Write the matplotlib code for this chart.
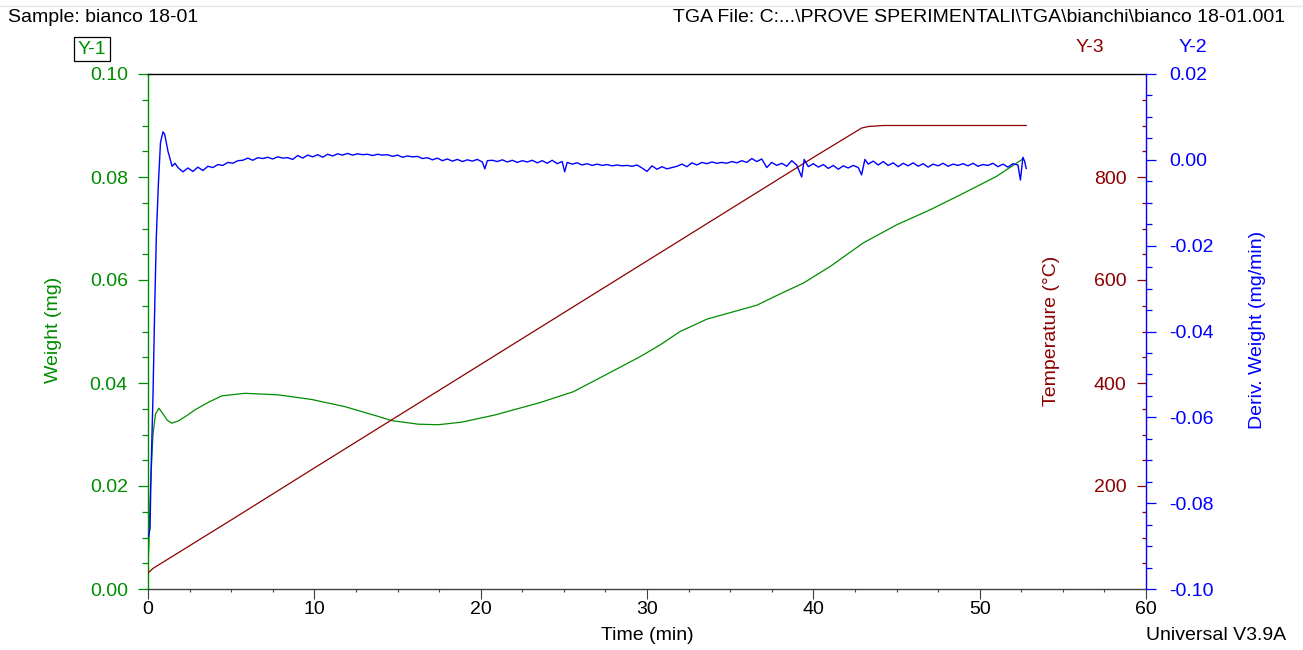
import matplotlib
matplotlib.use("Agg")
import matplotlib.pyplot as plt
from matplotlib.lines import Line2D
from matplotlib.ticker import MultipleLocator, FixedLocator, FuncFormatter

plt.rcParams['font.family'] = ['Liberation Sans', 'DejaVu Sans']

GREEN = '#008c00'
BLUE = '#0000ff'
RED = '#8b0000'

# weight (mg)
weight_time = [0.0, 0.05, 0.15, 0.3, 0.45, 0.66, 0.9, 1.15, 1.42, 1.8, 2.3, 2.83,
               3.6, 4.43, 5.83, 7.84, 9.84, 11.85, 13.85, 14.65, 16.25, 17.46,
               18.86, 20.87, 23.57, 25.57, 27.58, 29.58, 30.79, 31.99, 33.0,
               33.6, 35.6, 36.6, 38.0, 39.4, 41.0, 43.0, 45.0, 47.0, 49.0, 51.0,
               52.5, 52.6]
weight_mg = [0.005, 0.008, 0.020, 0.030, 0.034, 0.0351, 0.0340, 0.0328, 0.0322,
             0.0326, 0.0336, 0.0348, 0.0362, 0.0375, 0.0380, 0.0377, 0.0368,
             0.0354, 0.0335, 0.0327, 0.0320, 0.0319, 0.0324, 0.0338, 0.0362,
             0.0383, 0.0417, 0.0451, 0.0474, 0.0500, 0.0515, 0.0524, 0.0542,
             0.0551, 0.0573, 0.0594, 0.0626, 0.0672, 0.0707, 0.0736, 0.0768,
             0.0801, 0.0833, 0.0836]

# temperature (deg C), dark red trace
temp_time = [0.0, 0.3, 0.9, 5.0, 10.0, 20.0, 30.0, 40.0, 42.9, 43.3, 44.2, 52.8]
temp_c = [31, 40, 52, 134, 235, 436, 637, 838, 895, 898, 900, 900]

# derivative weight (mg/min), blue trace
deriv_time = [0.0, 0.12, 0.2, 0.3, 0.4, 0.5, 0.62, 0.75, 0.9, 1.0, 1.2, 1.45,
              1.62, 1.8, 2.1, 2.4, 2.7, 3.0, 3.3, 3.6, 3.9, 4.2, 4.5, 4.8, 5.1,
              5.4, 5.7, 6.0, 6.3, 6.6, 6.9, 7.2, 7.5, 7.8, 8.1, 8.4, 8.7, 9.0,
              9.3, 9.6, 9.9, 10.2, 10.5, 10.8, 11.1, 11.4, 11.7, 12.0, 12.3,
              12.6, 12.9, 13.2, 13.5, 13.8, 14.1, 14.4, 14.7, 15.0, 15.3, 15.6,
              15.9, 16.2, 16.5, 16.8, 17.1, 17.4, 17.7, 18.0, 18.3, 18.6, 18.9,
              19.2, 19.5, 19.8, 20.1, 20.25, 20.4, 20.7, 21.0, 21.3, 21.6, 21.9,
              22.2, 22.5, 22.8, 23.1, 23.4, 23.7, 24.0, 24.3, 24.6, 24.9, 25.05,
              25.2, 25.5, 25.8, 26.1, 26.4, 26.7, 27.0, 27.3, 27.6, 27.9, 28.2,
              28.5, 28.8, 29.1, 29.4, 29.7, 30.0, 30.3, 30.6, 30.9, 31.2, 31.5,
              31.8, 32.1, 32.4, 32.7, 33.0, 33.3, 33.6, 33.9, 34.2, 34.5, 34.8,
              35.1, 35.4, 35.7, 36.0, 36.3, 36.6, 36.9, 37.2, 37.5, 37.8, 38.1,
              38.4, 38.7, 39.0, 39.3, 39.45, 39.7, 40.0, 40.3, 40.6, 40.9, 41.2,
              41.5, 41.8, 42.1, 42.4, 42.7, 42.9, 43.1, 43.3, 43.6, 43.9, 44.2,
              44.5, 44.8, 45.1, 45.4, 45.7, 46.0, 46.3, 46.6, 46.9, 47.2, 47.5,
              47.8, 48.1, 48.4, 48.7, 49.0, 49.3, 49.6, 49.9, 50.2, 50.5, 50.8,
              51.1, 51.4, 51.7, 52.0, 52.3, 52.45, 52.6, 52.7, 52.8]
deriv_mg_min = [-0.088, -0.086, -0.070, -0.055, -0.035, -0.018, -0.006, 0.004,
                0.0065, 0.006, 0.002, -0.0015, -0.0008, -0.0018, -0.0028,
                -0.0019, -0.0027, -0.0017, -0.0025, -0.0015, -0.0018, -0.0011,
                -0.0013, -0.0006, -0.0008, -0.0002, -0.0001, 0.0004, -0.0001,
                0.0005, 0.0003, 0.0006, 0.0002, 0.0007, 0.0004, 0.0005, 0.0001,
                0.0010, 0.0004, 0.0011, 0.0007, 0.0012, 0.0006, 0.0013, 0.0009,
                0.0014, 0.0011, 0.0015, 0.0011, 0.0014, 0.0012, 0.0013, 0.0010,
                0.0013, 0.0011, 0.0012, 0.0008, 0.0011, 0.0006, 0.0009, 0.0007,
                0.0008, 0.0003, 0.0005, 0.0000, 0.0004, -0.0002, 0.0002,
                -0.0003, 0.0001, -0.0004, 0.0000, -0.0003, 0.0001, -0.0005,
                -0.0021, -0.0002, -0.0001, -0.0004, 0.0000, -0.0005, -0.0001,
                -0.0006, -0.0002, -0.0005, -0.0001, -0.0007, -0.0002, -0.0008,
                -0.0001, -0.0009, -0.0004, -0.0028, -0.0006, -0.0010, -0.0007,
                -0.0012, -0.0009, -0.0013, -0.0010, -0.0013, -0.0011, -0.0014,
                -0.0012, -0.0014, -0.0013, -0.0015, -0.0012, -0.0019, -0.0027,
                -0.0014, -0.0022, -0.0016, -0.0021, -0.0018, -0.0015, -0.0010,
                -0.0016, -0.0007, -0.0012, -0.0006, -0.0009, -0.0005, -0.0008,
                -0.0006, -0.0008, -0.0004, -0.0007, -0.0002, -0.0006, 0.0003,
                -0.0004, 0.0002, -0.0018, -0.0006, -0.0013, -0.0008, -0.0015,
                -0.0002, -0.0012, -0.0040, 0.0001, -0.0016, -0.0009, -0.0017,
                -0.0011, -0.0020, -0.0013, -0.0022, -0.0014, -0.0019, -0.0013,
                -0.0018, -0.0035, 0.0001, -0.0010, -0.0003, -0.0012, -0.0004,
                -0.0013, -0.0007, -0.0016, -0.0008, -0.0014, -0.0007, -0.0015,
                -0.0009, -0.0017, -0.0010, -0.0014, -0.0008, -0.0015, -0.0010,
                -0.0013, -0.0009, -0.0014, -0.0008, -0.0015, -0.0011, -0.0013,
                -0.0008, -0.0016, -0.0010, -0.0017, -0.0009, -0.0012, -0.0047,
                0.0006, -0.0003, -0.0020]

temp_major = [200, 400, 600, 800]
temp_minor = [50, 100, 150, 250, 300, 350, 450, 500, 550, 650, 700, 750,
              850, 900, 950]

FS = 14


def two_dec(v, pos):
    if abs(v) < 1e-9:
        return '0.00'
    return f'{v:.2f}'


fig = plt.figure(figsize=(13.03, 6.5), dpi=100)
ax = fig.add_axes([148 / 1303, 1 - 589 / 650, 998 / 1303, 515 / 650])
ax3 = ax.twinx()
ax2 = ax.twinx()

ax.plot(weight_time, weight_mg, color=GREEN, lw=0.9)
ax3.plot(temp_time, temp_c, color=RED, lw=0.9)
ax2.plot(deriv_time, deriv_mg_min, color=BLUE, lw=1.0)

ax.set_xlim(0, 60)
ax.set_ylim(0, 0.10)
ax2.set_ylim(-0.10, 0.02)
ax3.set_ylim(0, 1000)

# x axis
ax.xaxis.set_major_locator(MultipleLocator(10))
ax.xaxis.set_minor_locator(MultipleLocator(2.5))
ax.tick_params(axis='x', which='major', length=7, width=0.8, color='#404040',
               labelsize=FS, pad=2)
ax.tick_params(axis='x', which='minor', length=2.5, width=0.8, color='#404040')

# weight axis (left)
ax.yaxis.set_major_locator(MultipleLocator(0.02))
ax.yaxis.set_minor_locator(MultipleLocator(0.005))
ax.yaxis.set_major_formatter(FuncFormatter(two_dec))
ax.tick_params(axis='y', which='major', length=7.5, width=0.9, color=GREEN,
               labelcolor=GREEN, labelsize=FS, pad=7)
ax.tick_params(axis='y', which='minor', length=4.3, width=0.9, color=GREEN)

# derivative axis (right, outward ticks)
ax2.yaxis.set_major_locator(MultipleLocator(0.02))
ax2.yaxis.set_minor_locator(MultipleLocator(0.005))
ax2.yaxis.set_major_formatter(FuncFormatter(two_dec))
ax2.tick_params(axis='y', which='major', length=7.5, width=0.9, color=BLUE,
                labelcolor=BLUE, labelsize=FS, pad=9)
ax2.tick_params(axis='y', which='minor', length=4.5, width=0.9, color=BLUE)

# temperature axis (ticks inward on the right spine, labels inside)
ax3.yaxis.set_major_locator(FixedLocator(temp_major))
ax3.yaxis.set_minor_locator(FixedLocator(temp_minor))
ax3.tick_params(axis='y', which='major', direction='in', length=6.5, width=0.9,
                color=RED, labelcolor=RED, labelsize=FS, pad=-14)
ax3.tick_params(axis='y', which='minor', direction='in', length=3, width=0.9,
                color=RED)
for tk in ax3.yaxis.get_major_ticks():
    tk.label2.set_horizontalalignment('right')

for a in (ax, ax2, ax3):
    for s in a.spines.values():
        s.set_visible(False)
ax.spines['left'].set_visible(True)
ax.spines['left'].set_color(GREEN)
ax.spines['bottom'].set_visible(True)
ax.spines['bottom'].set_color('#404040')
ax.spines['top'].set_visible(True)
ax.spines['top'].set_color('black')
ax2.spines['right'].set_visible(True)
ax2.spines['right'].set_color(BLUE)
for a in (ax, ax2, ax3):
    for s in a.spines.values():
        s.set_linewidth(1.0)

# axis titles
fig.text(53 / 1303, 1 - 330 / 650, 'Weight (mg)', color=GREEN, fontsize=FS,
         rotation=90, ha='center', va='center')
fig.text(1052 / 1303, 1 - 331 / 650, 'Temperature (°C)', color=RED, fontsize=FS,
         rotation=90, ha='center', va='center')
fig.text(1258 / 1303, 1 - 330 / 650, 'Deriv. Weight (mg/min)', color=BLUE,
         fontsize=FS, rotation=90, ha='center', va='center')
fig.text(647 / 1303, 1 - 636 / 650, 'Time (min)', fontsize=FS,
         ha='center', va='center')

# header / footer
fig.add_artist(Line2D([0, 1], [1 - 6 / 650, 1 - 6 / 650], color='#e6e6e6', lw=1))
fig.text(8 / 1303, 1 - 18 / 650, 'Sample: bianco 18-01', fontsize=FS,
         ha='left', va='center')
fig.text(1285 / 1303, 1 - 18 / 650,
         'TGA File: C:...\\PROVE SPERIMENTALI\\TGA\\bianchi\\bianco 18-01.001',
         fontsize=FS, ha='right', va='center')
fig.text(1286 / 1303, 1 - 636 / 650, 'Universal V3.9A', fontsize=FS,
         ha='right', va='center')
fig.text(92 / 1303, 1 - 49 / 650, 'Y-1', color=GREEN, fontsize=FS,
         ha='center', va='center',
         bbox=dict(boxstyle='square,pad=0.2', fc='white', ec='black', lw=0.9))
fig.text(1090 / 1303, 1 - 47 / 650, 'Y-3', color=RED, fontsize=FS,
         ha='center', va='center')
fig.text(1193 / 1303, 1 - 47 / 650, 'Y-2', color=BLUE, fontsize=FS,
         ha='center', va='center')

fig.savefig('out.png', dpi=100)
plt.close(fig)
